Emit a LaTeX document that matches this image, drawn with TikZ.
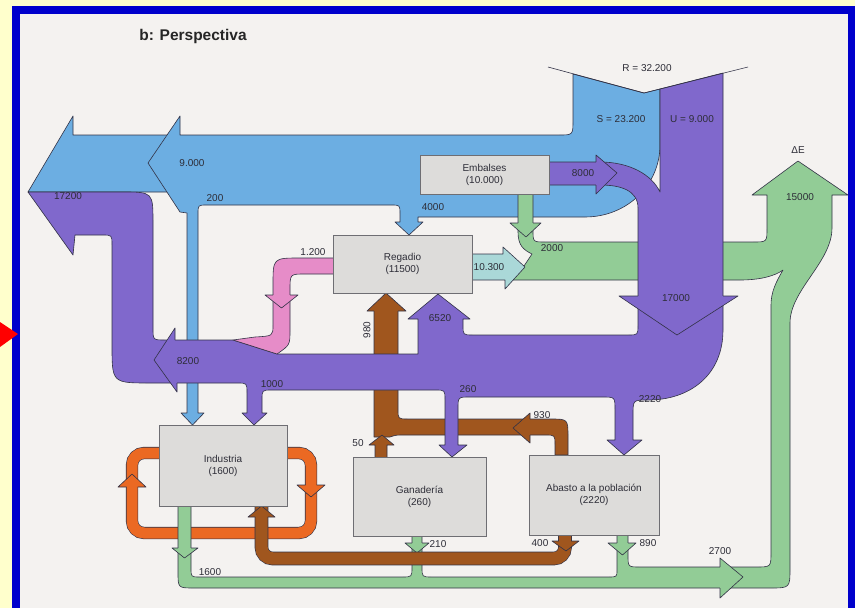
\documentclass[tikz,border=0pt]{standalone}
\usepackage{fontspec}
\setmainfont{Liberation Sans}
\definecolor{ybg}{RGB}{255,255,204}
\definecolor{frm}{RGB}{0,0,204}
\definecolor{paper}{RGB}{244,242,240}
\definecolor{bluef}{RGB}{108,174,226}
\definecolor{purf}{RGB}{128,104,204}
\definecolor{greenf}{RGB}{146,204,150}
\definecolor{cyanf}{RGB}{170,216,216}
\definecolor{pinkf}{RGB}{230,140,200}
\definecolor{brownf}{RGB}{160,86,30}
\definecolor{orangef}{RGB}{235,105,35}
\definecolor{boxf}{RGB}{221,220,218}
\definecolor{boxd}{RGB}{110,110,115}
\definecolor{olc}{RGB}{50,50,70}
\definecolor{txt}{RGB}{45,45,55}
\tikzset{
  outl/.style={draw=olc, line width=0.6pt, line join=round},
  lbl/.style={font=\fontsize{10}{11}\selectfont, text=txt, inner sep=0pt},
  box/.style={draw=boxd, fill=boxf, line width=0.7pt, align=center,
    font=\fontsize{10}{12}\selectfont, text=txt, inner sep=0pt}
}
\newcommand\ahead[6]{\fill[#1] #2 -- #3 -- #4 -- #5 -- #6 -- cycle;
  \draw[outl] #2 -- #3 -- #4 -- #5 -- #6;}
\begin{document}
\begin{tikzpicture}[x=1pt,y=-1pt]
\useasboundingbox (0,0) rectangle (855,608);
% background and frame
\fill[ybg] (0,0) rectangle (855,608);
\fill[frm] (12,6) rectangle (855,608);
\fill[paper] (20,14) rectangle (848,608);
\fill[red] (0,322) -- (18,334) -- (0,347) -- cycle;

% ---------- blue (S) ----------
\filldraw[fill=bluef,outl] (180,135) -- (73,135) -- (73,116) -- (28,192) -- (167,192) -- cycle;
\filldraw[fill=bluef,outl] (573,74) -- (573,120) .. controls (573,135) .. (559,135)
  -- (180,135) -- (180,116) -- (148,163) -- (180,212) -- (187,213)
  -- (187,413) -- (181,413) -- (192.5,425) -- (204,413) -- (198,413)
  -- (198,214) .. controls (198,205) .. (207,205)
  -- (391,205) .. controls (400,205) .. (400,214)
  -- (400,222) -- (395,222) -- (409,235) -- (423,222) -- (418,222)
  -- (418,217) -- (585,217) .. controls (627,217) and (660,185) .. (660,145)
  -- (660,89) -- (644,93) -- cycle;

% ---------- orange loop ----------
\draw[draw=olc,line width=0.6pt,double=orangef,double distance=11pt,rounded corners=12pt]
  (160,453) -- (132,453) -- (132,533) -- (311,533) -- (311,453) -- (286,453);
\ahead{orangef}{(126.5,487)}{(118,487)}{(132,474)}{(146,487)}{(137.5,487)}
\ahead{orangef}{(305.5,485)}{(297,485)}{(311,497)}{(325,485)}{(316.5,485)}

% ---------- green ----------
\filldraw[fill=greenf,outl] (178,506) -- (178,572) .. controls (178,588) .. (194,588)
  -- (770,588) .. controls (790,588) .. (790,568)
  -- (790,323) .. controls (790,290) and (832,262) .. (832,228)
  -- (832,195) -- (848,195) -- (798,161) -- (752,195) -- (767,195)
  -- (767,228) .. controls (767,242) .. (753,242)
  -- (545,242) .. controls (533,242) .. (533,230) -- (533,194) -- (518,194)
  -- (518,232) .. controls (518,246) and (524,250) .. (532,254)
  -- (524,266) -- (510,266) -- (510,280)
  -- (740,280) .. controls (760,280) and (775,276) .. (783,270)
  .. controls (776,282) and (771,292) .. (771,305)
  -- (771,552) .. controls (771,567) .. (756,567)
  -- (640,567) .. controls (628,567) .. (628,555) -- (628,535) -- (617,535)
  -- (617,570) .. controls (617,577) .. (608,577)
  -- (432,577) .. controls (422,577) .. (422,567) -- (422,536) -- (412,536)
  -- (412,567) .. controls (412,577) .. (402,577)
  -- (200,577) .. controls (191,577) .. (191,568) -- (191,506) -- cycle;
\ahead{greenf}{(518,223)}{(510,223)}{(526,237)}{(541,223)}{(533,223)}
\ahead{greenf}{(178,548)}{(172,548)}{(184.5,558)}{(198,548)}{(191,548)}
\ahead{greenf}{(412,543)}{(405,543)}{(417,553)}{(429,543)}{(422,543)}
\ahead{greenf}{(617,543)}{(608,543)}{(622.5,555)}{(636,543)}{(628,543)}
\ahead{greenf}{(720,567)}{(720,558)}{(743,577)}{(720,598)}{(720,588)}

% ---------- brown ----------
\draw[draw=olc,line width=0.6pt,double=brownf,double distance=12.4pt,rounded corners=11pt]
  (565,535) -- (565,558.5) -- (261.5,558.5) -- (261.5,506);
\ahead{brownf}{(558.8,541)}{(552,541)}{(566,551)}{(579,541)}{(571.2,541)}
\ahead{brownf}{(255.3,517)}{(248,517)}{(261.5,506)}{(275,517)}{(267.7,517)}
\filldraw[fill=brownf,outl] (374,305) -- (374,437) -- (390,437) .. controls (396,435) .. (405,435)
  -- (545,435) .. controls (555,435) .. (555,445) -- (555,455) -- (568,455)
  -- (568,437) .. controls (568,419) .. (550,419)
  -- (408,419) .. controls (398,419) .. (398,409) -- (398,305) -- cycle;
\ahead{brownf}{(374,311)}{(367,311)}{(386,293)}{(406,311)}{(398,311)}
\ahead{brownf}{(530,419)}{(530,413)}{(513,428)}{(530,443)}{(530,435)}
\fill[brownf] (375,457) -- (375,445) -- (369,445) -- (382,435) -- (394,445) -- (387,445) -- (387,457) -- cycle;
\draw[outl] (375,457) -- (375,445) -- (369,445) -- (382,435) -- (394,445) -- (387,445) -- (387,457);

% ---------- purple ----------
\filldraw[fill=purf,outl] (660,89) -- (723,73)
  -- (723,330) .. controls (723,375) and (690,400) .. (648,400)
  .. controls (633,400) .. (633,415) -- (633,440) -- (642,440) -- (624,455) -- (607,440) -- (615,440)
  -- (615,410) .. controls (615,397) .. (602,397)
  -- (470,397) .. controls (458,397) .. (458,409)
  -- (458,445) -- (467,445) -- (452,457) -- (439,445) -- (445,445)
  -- (445,400) .. controls (445,390) .. (435,390)
  -- (272,390) .. controls (262,390) .. (262,400)
  -- (262,413) -- (267,413) -- (254,425) -- (242,413) -- (247,413)
  -- (247,393) .. controls (247,383) .. (237,383)
  -- (150,383) .. controls (112,383) .. (112,345)
  -- (112,245) .. controls (112,235) .. (102,235)
  -- (75,235) -- (73,255) -- (28,192)
  -- (122,192) .. controls (153,192) .. (153,223)
  -- (153,328) .. controls (153,340) .. (165,340)
  -- (233,340) -- (277,354) -- (418,354)
  -- (418,319) -- (408,319) -- (438,294) -- (470,319) -- (463,319)
  -- (463,325) .. controls (463,335) .. (473,335)
  -- (628,335) .. controls (638,335) .. (638,325)
  -- (638,208) .. controls (638,190) and (620,185) .. (600,185)
  -- (549,185) -- (549,162) -- (600,162) .. controls (630,162) and (652,175) .. (660,192)
  -- cycle;
\ahead{purf}{(596,162)}{(596,155)}{(617,173)}{(596,194)}{(596,185)}
\ahead{purf}{(638,296)}{(619,296)}{(677,335)}{(738,296)}{(723,296)}
\ahead{purf}{(175,340)}{(175,328)}{(154,360)}{(177,392)}{(177,383)}

% ---------- pink ----------
\filldraw[fill=pinkf,outl] (334,258) -- (300,258) .. controls (273,258) .. (273,285)
  -- (273,325) .. controls (273,336) .. (255,337) -- (233,340) -- (277,354)
  .. controls (290,345) .. (290,330) -- (290,290) .. controls (290,274) .. (305,274)
  -- (334,274) -- cycle;
\ahead{pinkf}{(273,295)}{(265,295)}{(281.5,308)}{(298,295)}{(290,295)}

% ---------- cyan 10.300 ----------
\filldraw[fill=cyanf,outl] (472,254) -- (503,254) -- (503,247) -- (525,267) -- (505,289) -- (505,280) -- (472,280) -- cycle;

% R line
\draw[outl] (548,67) -- (644,93) -- (748,67);

% ---------- boxes ----------
\node[box, minimum width=129pt, minimum height=39pt] (emb) at (484.5,174.5) {Embalses\\(10.000)};
\node[box, minimum width=139pt, minimum height=58pt] (reg) at (402.5,264) {Regadio\\(11500)};
\node[box, minimum width=128pt, minimum height=81pt] (ind) at (223,465.5) {Industria\\(1600)};
\node[box, minimum width=133pt, minimum height=79pt] (gan) at (419.5,496.5) {Ganadería\\(260)};
\node[box, minimum width=130pt, minimum height=80pt] (aba) at (594,495) {Abasto a la población\\(2220)};

% ---------- labels ----------
\node[font=\bfseries\fontsize{15.5}{18}\selectfont, text=black!85, inner sep=0pt] (title) at (193,36) {b: Perspectiva};
\node[lbl] (lR) at (647,68) {R = 32.200};
\node[lbl] (lS) at (621,119) {S = 23.200};
\node[lbl] (lU) at (692,119) {U = 9.000};
\node[lbl] (lE) at (798,150) {ΔE};
\node[lbl] (l15) at (800,197) {15000};
\node[lbl] (l8000) at (583,173) {8000};
\node[lbl] (l4000) at (433,207) {4000};
\node[lbl] (l2000) at (552,248) {2000};
\node[lbl] (l103) at (489,267) {10.300};
\node[lbl] (l17000) at (676,298) {17000};
\node[lbl] (l9000) at (192,163) {9.000};
\node[lbl] (l17200) at (68,196) {17200};
\node[lbl] (l200) at (215,198) {200};
\node[lbl] (l1200) at (313,252) {1.200};
\node[lbl] (l6520) at (440,318) {6520};
\node[lbl, rotate=90] (l980) at (367,330) {980};
\node[lbl] (l8200) at (188,361) {8200};
\node[lbl] (l1000) at (272,384) {1000};
\node[lbl] (l260) at (468,389) {260};
\node[lbl] (l2220) at (650,399) {2220};
\node[lbl] (l930) at (542,415) {930};
\node[lbl] (l50) at (358,443) {50};
\node[lbl] (l210) at (438,544) {210};
\node[lbl] (l400) at (540,543) {400};
\node[lbl] (l890) at (648,543) {890};
\node[lbl] (l2700) at (720,551) {2700};
\node[lbl] (l1600) at (210,572) {1600};
\end{tikzpicture}
\end{document}
